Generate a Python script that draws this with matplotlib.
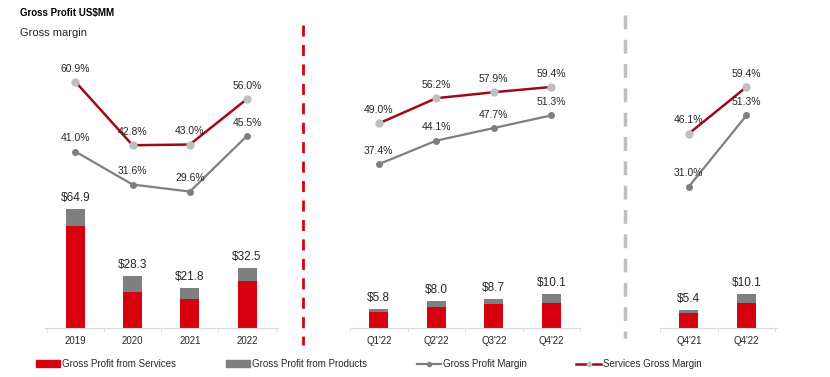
# Gross profit chart: annual, quarterly and year-over-year panels
import matplotlib.pyplot as plt
from matplotlib.lines import Line2D
from matplotlib.patches import Patch

plt.rcParams['font.family'] = ['Liberation Sans', 'DejaVu Sans']

# Annual figures (US$MM)
years = ['2019', '2020', '2021', '2022']
year_services = [55.7, 19.4, 15.8, 25.7]
year_products = [9.2, 8.9, 6.0, 6.8]
year_totals = [64.9, 28.3, 21.8, 32.5]
year_gm = [41.0, 31.6, 29.6, 45.5]
year_sgm = [60.9, 42.8, 43.0, 56.0]

# Quarterly figures 2022
quarters = ["Q1'22", "Q2'22", "Q3'22", "Q4'22"]
q_services = [4.8, 6.3, 7.2, 7.5]
q_products = [1.0, 1.7, 1.5, 2.6]
q_totals = [5.8, 8.0, 8.7, 10.1]
q_gm = [37.4, 44.1, 47.7, 51.3]
q_sgm = [49.0, 56.2, 57.9, 59.4]

# Q4 year over year
q4 = ["Q4'21", "Q4'22"]
q4_services = [4.4, 7.4]
q4_products = [1.0, 2.7]
q4_totals = [5.4, 10.1]
q4_gm = [31.0, 51.3]
q4_sgm = [46.1, 59.4]

RED = '#D7000F'
GREY = '#7F7F7F'
DARK_RED = '#9C0A1C'
LIGHT_GREY = '#BFBFBF'
TEXT = '#262626'


def draw_panel(ax, labels, services, products, totals, gm, sgm, bar_top, xlim):
    '''Stacked bars for gross profit plus margin lines on a twin axis.'''
    x = list(range(len(labels)))
    ax.bar(x, services, width=0.33, color=RED, zorder=2)
    ax.bar(x, products, width=0.33, bottom=services, color=GREY, zorder=2)
    # a single dollar sign is not read as mathtext
    for xi, t in zip(x, totals):
        ax.annotate(f'${t:.1f}', (xi, t), xytext=(0, 8),
                    textcoords='offset points', ha='center', va='center',
                    fontsize=8.5, color=TEXT)
    ax.set_xlim(*xlim)
    ax.set_ylim(0, bar_top)
    ax.set_xticks(x)
    ax.set_xticklabels(labels, fontsize=7, color=TEXT)
    ax.set_xticks([i - 0.5 for i in range(len(labels) + 1)], minor=True)
    ax.tick_params(axis='x', which='major', length=0, pad=6)
    ax.tick_params(axis='x', which='minor', length=3, color='#D9D9D9')
    ax.set_yticks([])
    for s in ['top', 'left', 'right']:
        ax.spines[s].set_visible(False)
    ax.spines['bottom'].set_color('#D9D9D9')

    # margins on a second axis
    ax2 = ax.twinx()
    ax2.plot(x, gm, color=GREY, lw=1.6, marker='o', markersize=4,
             markerfacecolor=GREY, markeredgecolor=GREY, zorder=3)
    ax2.plot(x, sgm, color=DARK_RED, lw=1.8, marker='o', markersize=5,
             markerfacecolor=LIGHT_GREY, markeredgecolor=LIGHT_GREY, zorder=3)
    for xi, v in zip(x, gm):
        ax2.annotate(f'{v:.1f}%', (xi, v), xytext=(0, 9.5),
                     textcoords='offset points', ha='center', va='center',
                     fontsize=7.5, color=TEXT)
    for xi, v in zip(x, sgm):
        ax2.annotate(f'{v:.1f}%', (xi, v), xytext=(0, 9.5),
                     textcoords='offset points', ha='center', va='center',
                     fontsize=7.5, color=TEXT)
    ax2.set_ylim(-9.27, 72.78)
    ax2.axis('off')


fig = plt.figure(figsize=(8.3, 3.77), dpi=100)

bottom = 49 / 377
height = 288 / 377
ax1 = fig.add_axes([45 / 830, bottom, 233 / 830, height])
ax2 = fig.add_axes([350 / 830, bottom, 230 / 830, height])
ax3 = fig.add_axes([660 / 830, bottom, 117 / 830, height])

draw_panel(ax1, years, year_services, year_products, year_totals,
           year_gm, year_sgm, 157, (-0.53, 3.54))
draw_panel(ax2, quarters, q_services, q_products, q_totals,
           q_gm, q_sgm, 86.5, (-0.5, 3.49))
draw_panel(ax3, q4, q4_services, q4_products, q4_totals,
           q4_gm, q4_sgm, 86.5, (-0.48, 1.53))

# Titles
fig.text(20 / 830, 1 - 13 / 377, 'Gross Profit US$MM', fontsize=7,
         fontweight='bold', va='center', ha='left', color='black')
fig.text(20 / 830, 1 - 33 / 377, 'Gross margin', fontsize=8,
         va='center', ha='left', color=TEXT)

# Panel dividers
fig.add_artist(Line2D([303 / 830, 303 / 830], [1 - 25 / 377, 1 - 345 / 377],
                      color=RED, lw=2, linestyle=(0, (4, 3))))
fig.add_artist(Line2D([625 / 830, 625 / 830], [1 - 15 / 377, 1 - 338 / 377],
                      color=LIGHT_GREY, lw=2.5, linestyle=(0, (4, 3))))

# Legend
handles = [
    Patch(color=RED, label='Gross Profit from Services'),
    Patch(color=GREY, label='Gross Profit from Products'),
    Line2D([], [], color=GREY, lw=1.6, marker='o', markersize=3,
           label='Gross Profit Margin'),
    Line2D([], [], color=DARK_RED, lw=1.8, marker='o', markersize=3,
           markerfacecolor=LIGHT_GREY, markeredgecolor=LIGHT_GREY,
           label='Services Gross Margin'),
]
fig.legend(handles=handles, loc='center left',
           bbox_to_anchor=(36 / 830, 1 - 364 / 377), ncol=4, frameon=False,
           fontsize=7, handlelength=2.5, handleheight=0.6, handletextpad=0.2,
           columnspacing=5.1, labelcolor=TEXT, borderaxespad=0,
           borderpad=0)

fig.savefig('out.png', dpi=100)
